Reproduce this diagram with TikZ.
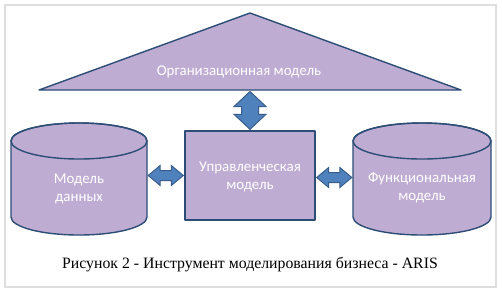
\documentclass[tikz,border=0pt]{standalone}
\usepackage{fontspec}
\setmainfont{Liberation Serif}
\newfontfamily\calib{Carlito}
\usetikzlibrary{calc}
\definecolor{lav}{RGB}{191,172,211}
\definecolor{edge}{RGB}{44,77,117}
\definecolor{arrfill}{RGB}{79,129,189}
\definecolor{arredge}{RGB}{56,93,138}
\definecolor{framec}{RGB}{222,222,222}
\tikzset{
  shapefill/.style={fill=lav},
  shapeline/.style={draw=edge, line width=1.4pt, line join=round},
  label/.style={font=\calib\fontsize{14.9}{18}\selectfont, text=white, align=center, inner sep=0pt},
  boxstyle/.style={shapefill, shapeline, minimum width=130pt, minimum height=89pt, inner sep=0pt},
  blockarrow/.style={fill=arrfill, draw=arredge, line width=1pt, line join=miter},
  caption/.style={font=\fontsize{15.8}{18}\selectfont, inner sep=0pt}
}
\begin{document}
\begin{tikzpicture}[x=1pt,y=-1pt]
\useasboundingbox (0,0) rectangle (502,293);
\fill[white] (0,0) rectangle (502,293);
\draw[framec, line width=2pt] (4.5,4.5) rectangle (496,287);

% triangle (organisational model)
\coordinate (apex) at (250,13);
\coordinate (bl) at (39,90);
\coordinate (br) at (461,90);
\filldraw[shapefill, shapeline] (apex) -- (br) -- (bl) -- cycle;
\node[label] (org) at (239,72) {Организационная модель};
\coordinate (orgb) at (250,91.5);

% central box
\node[boxstyle] (um) at (250,175.5) {};
\node[label] (umt) at (250,177) {Управленческая\\модель};

% left cylinder
\filldraw[shapefill, shapeline] (11,141) -- (11,217) arc[start angle=180, end angle=0, x radius=68, y radius=18] -- (147,141) arc[start angle=0, end angle=-180, x radius=68, y radius=18] -- cycle;
\draw[shapeline] (79,141) ellipse[x radius=68, y radius=18];
\node[minimum width=136pt, minimum height=112pt, inner sep=0pt] (ld) at (79,179) {};
\node[label] (ldt) at (79,189) {Модель\\данных};

% right cylinder
\filldraw[shapefill, shapeline] (353,141) -- (353,217) arc[start angle=180, end angle=0, x radius=69, y radius=18] -- (491,141) arc[start angle=0, end angle=-180, x radius=69, y radius=18] -- cycle;
\draw[shapeline] (422,141) ellipse[x radius=69, y radius=18];
\node[minimum width=138pt, minimum height=112pt, inner sep=0pt] (rd) at (422,179) {};
\node[label] (rdt) at (422,188) {Функциональная\\модель};

% vertical block arrow
\coordinate (vt) at (orgb);
\coordinate (vb) at ($(um.north)+(0,-1)$);
\filldraw[blockarrow] (vt) -- ++(16,15) -- ++(-7.5,0) -- ($(vb)+(8.5,-15)$) -- ++(7.5,0) -- (vb) -- ++(-16,-15) -- ++(7.5,0) -- ($(vt)+(-8.5,15)$) -- ++(-7.5,0) -- cycle;

% left horizontal block arrow
\coordinate (la) at ($(ld.east |- um.west)+(1,0)$);
\coordinate (lb) at ($(um.west)+(-1,0)$);
\filldraw[blockarrow] (la) -- ++(12,-10) -- ++(0,5) -- ($(lb)+(-12,-5)$) -- ++(0,-5) -- (lb) -- ++(-12,10) -- ++(0,-5) -- ($(la)+(12,5)$) -- ++(0,5) -- cycle;

% right horizontal block arrow
\coordinate (ra) at ($(um.east)+(1,2)$);
\coordinate (rb) at ($(rd.west |- um.east)+(-1,2)$);
\filldraw[blockarrow] (ra) -- ++(12,-10) -- ++(0,5) -- ($(rb)+(-12,-5)$) -- ++(0,-5) -- (rb) -- ++(-12,10) -- ++(0,-5) -- ($(ra)+(12,5)$) -- ++(0,5) -- cycle;

% caption
\node[caption] (cap) at (250,265) {Рисунок 2 - Инструмент моделирования бизнеса - ARIS};
\end{tikzpicture}
\end{document}
